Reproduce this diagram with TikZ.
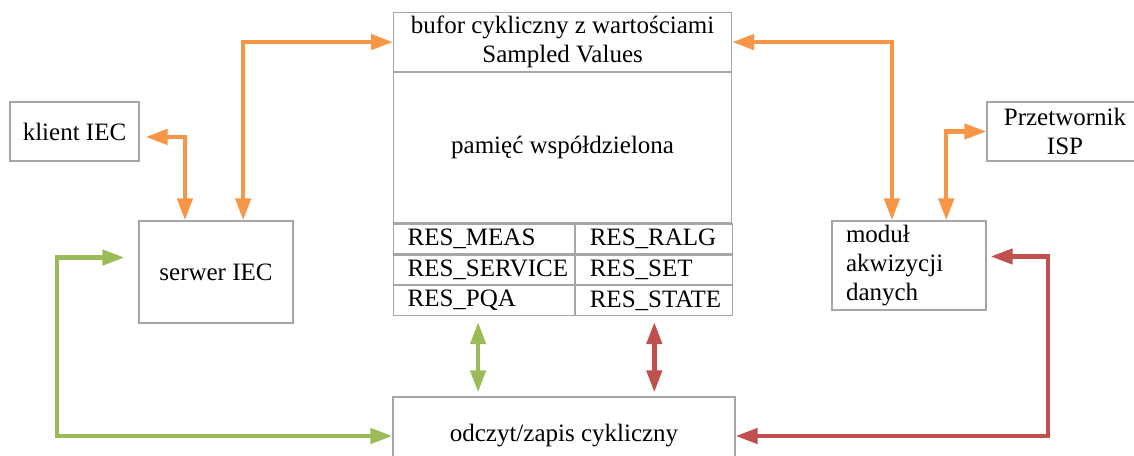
\documentclass[tikz,border=0pt]{standalone}
\usepackage{fontspec}
\setmainfont{Liberation Serif}
\usetikzlibrary{positioning,arrows.meta,calc}
\definecolor{boxgray}{HTML}{A6A6A6}
\definecolor{iecorange}{HTML}{F79646}
\definecolor{iecgreen}{HTML}{9BBB59}
\definecolor{iecred}{HTML}{C0504D}
\tikzset{
  box/.style={draw=boxgray, line width=0.6pt, inner sep=0pt, align=center},
  cellL/.style={box, align=left, text width=76.5pt, inner xsep=7pt, minimum height=14.85pt},
  cellR/.style={box, align=left, text width=64.5pt, inner xsep=7pt, minimum height=14.85pt},
  link/.style={line width=2.2pt, {Triangle[length=11pt,width=7.5pt]}-{Triangle[length=11pt,width=7.5pt]}},
  olink/.style={link, iecorange},
  glink/.style={link, iecgreen},
  rlink/.style={link, iecred},
}
\begin{document}
\begin{tikzpicture}[x=0.5pt, y=-0.5pt, font=\fontsize{12.5}{14.5}\selectfont]
\useasboundingbox (0,0) rectangle (1134,455);
% shared memory block
\node[box, minimum width=169pt, minimum height=29.5pt, anchor=north west] (buf) at (393,12) {bufor cykliczny z wartościami\\Sampled Values};
\node[box, minimum width=169pt, minimum height=75pt, below=0pt of buf] (mem) {pamięć współdzielona};
\node[cellL, anchor=north west] (meas) at (mem.south west) {RES\_MEAS};
\node[cellR, right=0pt of meas] (ralg) {RES\_RALG};
\node[cellL, below=0pt of meas] (service) {RES\_SERVICE};
\node[cellR, right=0pt of service] (set) {RES\_SET};
\node[cellL, below=0pt of service] (pqa) {RES\_PQA};
\node[cellR, right=0pt of pqa] (state) {RES\_STATE};
% other blocks
\node[box, minimum width=64.5pt, minimum height=29.5pt] (klient) at (74.5,131.5) {klient IEC};
\node[box, minimum width=77pt, minimum height=51pt] (serwer) at (216,272) {serwer IEC};
\node[box, minimum width=78pt, minimum height=29.5pt] (isp) at (1065,131.5) {Przetwornik\\ISP};
\node[box, align=left, text width=63pt, inner xsep=7pt, minimum height=44.5pt] (akw) at (909,265.5) {moduł\\akwizycji\\danych};
\node[box, minimum width=171pt, minimum height=39pt] (odcz) at (564,436) {odczyt/zapis cykliczny};
\coordinate (gcorner) at (57,436);
\coordinate (rcorner) at (1048,436);
% connectors
\draw[olink, shorten >=3pt] ($(serwer.north west)!0.3!(serwer.north east)$) |- ($(klient.north east)!0.59!(klient.south east)$);
\draw[olink] ($(serwer.north west)!0.675!(serwer.north east)$) |- (buf.west);
\draw[olink] ($(akw.north west)!0.39!(akw.north east)$) |- (buf.east);
\draw[olink] ($(akw.north west)!0.74!(akw.north east)$) |- (isp.west);
\draw[glink, shorten <=7pt] ($(serwer.north west)!0.36!(serwer.south west)$) -| (gcorner) -- (odcz.west);
\draw[rlink, shorten <=2pt] ($(akw.north east)!0.4!(akw.south east)$) -| (rcorner) -- (odcz.east);
\draw[glink, shorten <=3pt, shorten >=2pt] ([xshift=-3pt]pqa.south) -- ([xshift=-3pt]pqa.south |- odcz.north);
\draw[rlink, shorten <=3pt, shorten >=2pt] (state.south) -- (state.south |- odcz.north);
\end{tikzpicture}
\end{document}
